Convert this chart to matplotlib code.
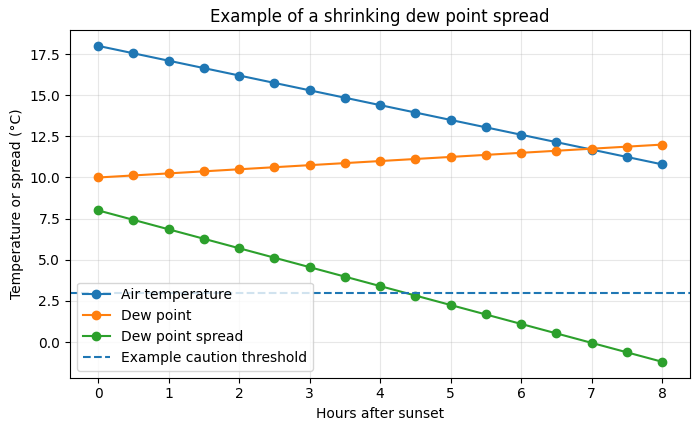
import matplotlib
matplotlib.use("Agg")
import matplotlib.pyplot as plt

# Hours after sunset and readings
hours = [0, 0.5, 1, 1.5, 2, 2.5, 3, 3.5, 4, 4.5, 5, 5.5, 6, 6.5, 7, 7.5, 8]
air_temp = [18.0, 17.55, 17.1, 16.65, 16.2, 15.75, 15.3, 14.85, 14.4, 13.95,
            13.5, 13.05, 12.6, 12.15, 11.7, 11.25, 10.8]
dew_point = [10.0, 10.125, 10.25, 10.375, 10.5, 10.625, 10.75, 10.875, 11.0,
             11.125, 11.25, 11.375, 11.5, 11.625, 11.75, 11.875, 12.0]
spread = [8.0, 7.425, 6.85, 6.275, 5.7, 5.125, 4.55, 3.975, 3.4, 2.825,
          2.25, 1.675, 1.1, 0.525, -0.05, -0.625, -1.2]
threshold = 3.0

fig, ax = plt.subplots(figsize=(7, 4.3), dpi=100)
ax.plot(hours, air_temp, marker='o', label='Air temperature')
ax.plot(hours, dew_point, marker='o', label='Dew point')
ax.plot(hours, spread, marker='o', label='Dew point spread')
ax.axhline(threshold, linestyle='--', label='Example caution threshold')

ax.set_title('Example of a shrinking dew point spread')
ax.set_xlabel('Hours after sunset')
ax.set_ylabel('Temperature or spread (°C)')
ax.grid(True, alpha=0.3)
ax.legend(loc='lower left')

fig.subplots_adjust(left=0.1, right=0.986, top=0.930, bottom=0.122)
fig.savefig('out.png')
